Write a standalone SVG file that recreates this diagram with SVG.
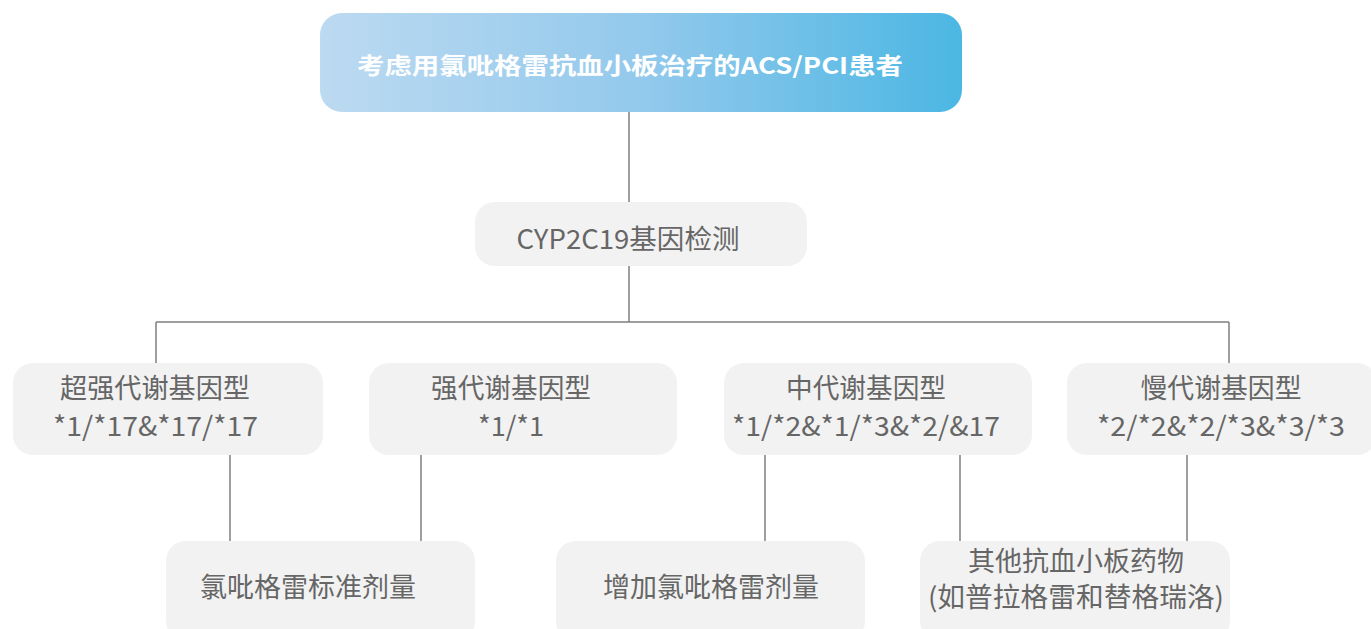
<svg xmlns="http://www.w3.org/2000/svg" width="1371" height="629" viewBox="0 0 1371 629">
<defs>
<linearGradient id="g" x1="0" y1="0" x2="1" y2="0">
<stop offset="0" stop-color="#bcdaf1"/>
<stop offset="0.5" stop-color="#93c9ec"/>
<stop offset="1" stop-color="#4bb7e3"/>
</linearGradient>
<style>
.box{fill:#f2f2f2;}
.t{font-family:"Noto Sans CJK SC","Noto Sans",sans-serif;fill:#666;font-size:27px;text-anchor:middle;}
.h{font-family:"Noto Sans CJK SC","Noto Sans",sans-serif;fill:#fff;font-size:23px;font-weight:bold;text-anchor:middle;}
.c line{stroke:#7f7f7f;stroke-width:1.5;}
</style>
</defs>
<rect width="1371" height="629" fill="#fff"/>
<g class="c" id="connectors">
<line x1="629" y1="112" x2="629" y2="202"/>
<line x1="629" y1="266" x2="629" y2="322"/>
<line x1="156" y1="322" x2="1229" y2="322"/>
<line x1="156" y1="322" x2="156" y2="363"/>
<line x1="1229" y1="322" x2="1229" y2="363"/>
<line x1="230" y1="455" x2="230" y2="541"/>
<line x1="421" y1="455" x2="421" y2="541"/>
<line x1="765" y1="455" x2="765" y2="541"/>
<line x1="960" y1="455" x2="960" y2="541"/>
<line x1="1187" y1="455" x2="1187" y2="541"/>
</g>
<g id="top">
<rect x="320" y="13" width="642" height="99" rx="22" fill="url(#g)"/>
<text class="h" x="630" y="74" textLength="546" lengthAdjust="spacingAndGlyphs">考虑用氯吡格雷抗血小板治疗的ACS/PCI患者</text>
</g>
<g id="cyp">
<rect class="box" x="475" y="202" width="332" height="64" rx="20"/>
<text class="t" x="628" y="249" textLength="223" lengthAdjust="spacingAndGlyphs">CYP2C19基因检测</text>
</g>
<g id="ultra">
<rect class="box" x="13" y="363" width="310" height="92" rx="20"/>
<text class="t" x="155" y="398" textLength="190" lengthAdjust="spacingAndGlyphs">超强代谢基因型</text>
<text class="t" x="155.5" y="436" textLength="205" lengthAdjust="spacingAndGlyphs">*1/*17&amp;*17/*17</text>
</g>
<g id="strong">
<rect class="box" x="369" y="363" width="308" height="92" rx="20"/>
<text class="t" x="511" y="398" textLength="160" lengthAdjust="spacingAndGlyphs">强代谢基因型</text>
<text class="t" x="511" y="436" textLength="66" lengthAdjust="spacingAndGlyphs">*1/*1</text>
</g>
<g id="mid">
<rect class="box" x="724" y="363" width="308" height="92" rx="20"/>
<text class="t" x="866" y="398" textLength="160" lengthAdjust="spacingAndGlyphs">中代谢基因型</text>
<text class="t" x="866" y="436" textLength="268" lengthAdjust="spacingAndGlyphs">*1/*2&amp;*1/*3&amp;*2/&amp;17</text>
</g>
<g id="slow">
<rect class="box" x="1067" y="363" width="310" height="92" rx="20"/>
<text class="t" x="1221" y="398" textLength="161" lengthAdjust="spacingAndGlyphs">慢代谢基因型</text>
<text class="t" x="1221" y="436" textLength="248" lengthAdjust="spacingAndGlyphs">*2/*2&amp;*2/*3&amp;*3/*3</text>
</g>
<g id="std">
<rect class="box" x="166" y="541" width="309" height="100" rx="20"/>
<text class="t" x="308" y="597" textLength="216" lengthAdjust="spacingAndGlyphs">氯吡格雷标准剂量</text>
</g>
<g id="inc">
<rect class="box" x="556" y="541" width="309" height="100" rx="20"/>
<text class="t" x="711" y="597" textLength="216" lengthAdjust="spacingAndGlyphs">增加氯吡格雷剂量</text>
</g>
<g id="other">
<rect class="box" x="920" y="541" width="310" height="100" rx="20"/>
<text class="t" x="1076" y="571" textLength="216" lengthAdjust="spacingAndGlyphs">其他抗血小板药物</text>
<text class="t" x="1076" y="607" textLength="296" lengthAdjust="spacingAndGlyphs">(如普拉格雷和替格瑞洛)</text>
</g>
</svg>
